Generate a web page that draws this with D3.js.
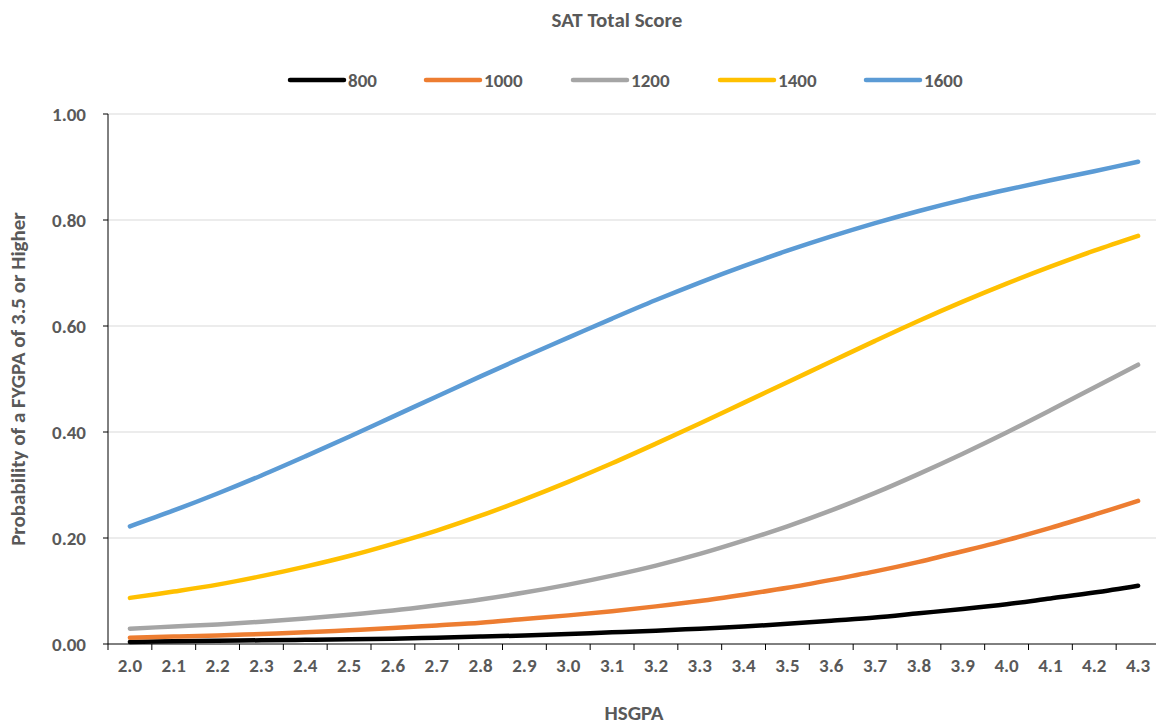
<!DOCTYPE html>
<html lang="en">
<head>
<meta charset="UTF-8">
<script src="https://d3js.org/d3.v7.min.js"></script>
<style>
  body { margin: 0; background: #fff; font-family: Calibri, "Liberation Sans", Arial, sans-serif; }
  text { fill: #595959; font-weight: bold; }
</style>
</head>
<body>
<script>
// HSGPA categories
const gpa = ["2.0","2.1","2.2","2.3","2.4","2.5","2.6","2.7","2.8","2.9","3.0","3.1","3.2","3.3","3.4","3.5","3.6","3.7","3.8","3.9","4.0","4.1","4.2","4.3"];
const yTicks = [0, 0.2, 0.4, 0.6, 0.8, 1.0];

// probability series by SAT total
const sat800  = [.004,.005,.006,.007,.008,.009,.010,.012,.014,.016,.019,.022,.025,.029,.033,.038,.044,.050,.058,.066,.075,.086,.097,.110];
const sat1000 = [.012,.014,.016,.019,.022,.026,.030,.035,.040,.047,.054,.062,.071,.081,.093,.106,.121,.137,.155,.175,.196,.219,.244,.270];
const sat1200 = [.029,.033,.037,.042,.048,.055,.063,.073,.084,.097,.112,.129,.148,.170,.195,.222,.252,.285,.321,.359,.399,.441,.484,.527];
const sat1400 = [.087,.099,.112,.128,.146,.166,.189,.214,.242,.273,.306,.341,.378,.416,.455,.494,.533,.572,.610,.646,.680,.712,.742,.770];
const sat1600 = [.222,.252,.284,.318,.354,.391,.429,.467,.505,.542,.578,.614,.649,.682,.713,.742,.769,.794,.817,.838,.857,.875,.892,.910];

const series = [
  { name: "800",  color: "#000000", values: sat800 },
  { name: "1000", color: "#ED7D31", values: sat1000 },
  { name: "1200", color: "#A5A5A5", values: sat1200 },
  { name: "1400", color: "#FFC000", values: sat1400 },
  { name: "1600", color: "#5B9BD5", values: sat1600 }
];

const width = 1156, height = 727;
const mLeft = 108, mRight = 1160, mTop = 114, mBottom = 644;

const svg = d3.select("body").append("svg")
  .attr("width", width).attr("height", height);

const x = d3.scalePoint().domain(gpa).range([mLeft, mRight]).padding(0.5);
const y = d3.scaleLinear().domain([0, 1]).range([mBottom, mTop]);

// gridlines
svg.append("g").selectAll("line").data(yTicks.slice(1)).enter().append("line")
  .attr("x1", mLeft).attr("x2", mRight)
  .attr("y1", d => y(d)).attr("y2", d => y(d))
  .attr("stroke", "#d9d9d9").attr("stroke-width", 1);

// axes
svg.append("line").attr("x1", mLeft).attr("x2", mLeft).attr("y1", mTop).attr("y2", mBottom)
  .attr("stroke", "#000");
svg.append("line").attr("x1", mLeft).attr("x2", mRight).attr("y1", mBottom).attr("y2", mBottom)
  .attr("stroke", "#000");

// y ticks
svg.append("g").selectAll("line").data(yTicks).enter().append("line")
  .attr("x1", mLeft - 5).attr("x2", mLeft).attr("y1", d => y(d)).attr("y2", d => y(d))
  .attr("stroke", "#000");
svg.append("g").selectAll("text").data(yTicks).enter().append("text")
  .attr("x", mLeft - 22).attr("y", d => y(d)).attr("dy", "0.35em")
  .attr("text-anchor", "end").attr("font-size", 19)
  .text(d => d.toFixed(2));

// x ticks between categories
const step = x.step();
svg.append("g").selectAll("line").data(d3.range(gpa.length + 1)).enter().append("line")
  .attr("x1", i => mLeft + i * step).attr("x2", i => mLeft + i * step)
  .attr("y1", mBottom).attr("y2", mBottom + 6)
  .attr("stroke", "#000");
svg.append("g").selectAll("text").data(gpa).enter().append("text")
  .attr("x", d => x(d)).attr("y", mBottom + 28)
  .attr("text-anchor", "middle").attr("font-size", 19)
  .text(d => d);

// lines
const line = d3.line()
  .x((d, i) => x(gpa[i]))
  .y(d => y(d))
  .curve(d3.curveCatmullRom);

svg.append("g").selectAll("path").data(series).enter().append("path")
  .attr("d", d => line(d.values))
  .attr("fill", "none")
  .attr("stroke", d => d.color)
  .attr("stroke-width", 4.5)
  .attr("stroke-linecap", "round");

// titles
svg.append("text").attr("x", 617).attr("y", 27).attr("text-anchor", "middle")
  .attr("font-size", 21).text("SAT Total Score");
svg.append("text").attr("x", 634).attr("y", 720).attr("text-anchor", "middle")
  .attr("font-size", 21).text("HSGPA");
svg.append("text").attr("transform", "translate(25," + ((mTop + mBottom) / 2) + ") rotate(-90)")
  .attr("text-anchor", "middle").attr("font-size", 21)
  .text("Probability of a FYGPA of 3.5 or Higher");

// legend
const legendX = [290, 426, 573, 720, 866];
const lg = svg.append("g").selectAll("g").data(series).enter().append("g")
  .attr("transform", (d, i) => "translate(" + legendX[i] + ",80)");
lg.append("line").attr("x1", 0).attr("x2", 54).attr("y1", 0).attr("y2", 0)
  .attr("stroke", d => d.color).attr("stroke-width", 4.5).attr("stroke-linecap", "round");
lg.append("text").attr("x", 58).attr("dy", "0.35em").attr("font-size", 19).text(d => d.name);
</script>
</body>
</html>
